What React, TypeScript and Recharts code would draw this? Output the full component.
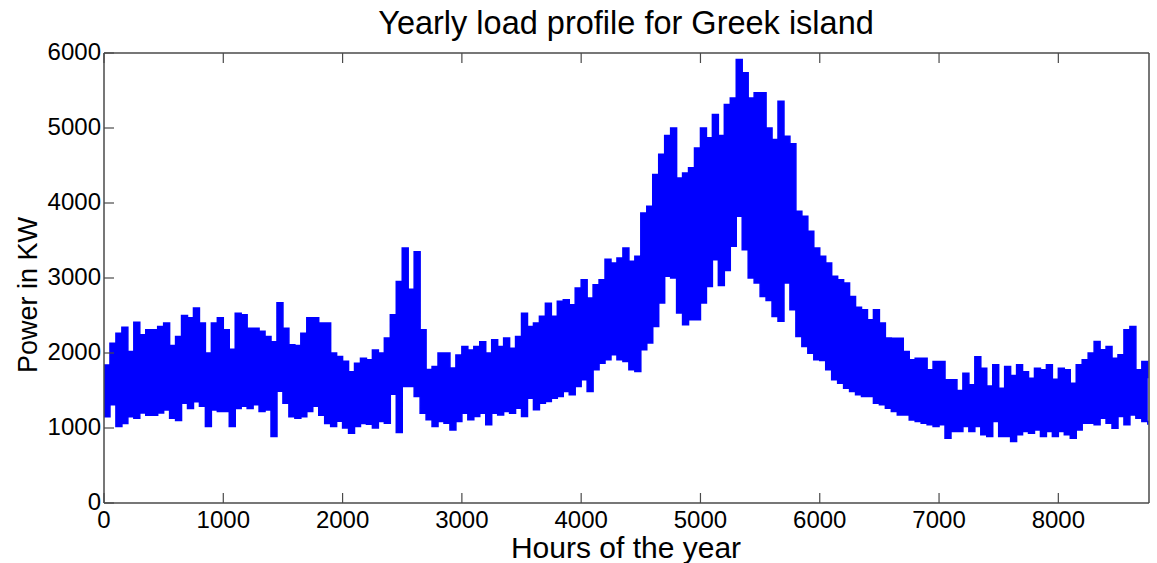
import React from 'react'
import { AreaChart, Area, XAxis, YAxis } from 'recharts'

// hourly load sampled every 50 h, read as the daily swing (low / high) off the plot
const STEP_HOURS = 50

const highLoad = [
  1840, 2130, 2265, 2345, 2020, 2410, 2243, 2310, 2310, 2355,
  2400, 2100, 2220, 2500, 2470, 2600, 2400, 2000, 2400, 2470,
  2310, 2050, 2530, 2510, 2330, 2330, 2290, 2220, 2150, 2670,
  2330, 2110, 2100, 2265, 2470, 2470, 2400, 2400, 2000, 1954,
  1890, 1750, 1865, 1930, 1910, 2040, 2000, 2200, 2510, 2955,
  3400, 2850, 3350, 2310, 1780, 1820, 2000, 2000, 1800, 1975,
  2087, 2040, 2087, 2150, 2000, 2176, 2087, 2200, 2065, 2220,
  2530, 2355, 2400, 2490, 2665, 2490, 2690, 2710, 2645, 2866,
  2977, 2733, 2910, 2977, 3250, 3200, 3266, 3400, 3222, 3290,
  3868, 3957, 4380, 4650, 4900, 5000, 4335, 4400, 4470, 4735,
  5000, 4870, 5180, 4900, 5313, 5400, 5914, 5736, 5400, 5469,
  5469, 5000, 4846, 5357, 4891, 4790, 3890, 3823, 3623, 3400,
  3290, 3200, 3022, 2977, 2933, 2755, 2610, 2577, 2444, 2577,
  2400, 2200, 2198, 2198, 2020, 1910, 1931, 1931, 1776, 1887,
  1887, 1643, 1643, 1500, 1731, 1576, 1950, 1798, 1560, 1842,
  1531, 1820, 1700, 1842, 1750, 1665, 1798, 1776, 1842, 1650,
  1798, 1776, 1598, 1842, 1910, 2000, 2154, 2043, 2087, 1931,
  1976, 2310, 2355, 1776, 1887, 1665
]

const lowLoad = [
  1150, 1310, 1020, 1060, 1150, 1130, 1200, 1170, 1170, 1200,
  1240, 1130, 1100, 1330, 1260, 1350, 1290, 1020, 1240, 1220,
  1220, 1020, 1260, 1290, 1260, 1310, 1220, 1240, 886, 1490,
  1330, 1150, 1130, 1150, 1220, 1290, 1170, 1060, 1020, 1090,
  1000, 930, 1020, 1060, 1050, 1000, 1087, 1064, 1450, 940,
  1553, 1553, 1420, 1198, 1110, 1020, 1087, 1064, 975, 1087,
  1198, 1110, 1153, 1198, 1042, 1198, 1175, 1220, 1198, 1265,
  1153, 1398, 1242, 1331, 1353, 1398, 1420, 1487, 1442, 1553,
  1642, 1487, 1776, 1865, 1910, 1976, 1910, 1887, 1776, 1753,
  2043, 2132, 2355, 2666, 3022, 3000, 2533, 2377, 2444, 2444,
  2666, 2888, 3244, 2900, 3100, 3422, 3823, 3378, 3000, 2933,
  2755, 2700, 2488, 2422, 2933, 2577, 2221, 2087, 1998, 1910,
  1900, 1776, 1642, 1598, 1531, 1487, 1442, 1420, 1420, 1331,
  1310, 1264, 1220, 1175, 1175, 1108, 1086, 1064, 1042, 1020,
  1042, 864, 953, 953, 1020, 953, 1020, 909, 886, 1086,
  886, 886, 820, 909, 953, 930, 975, 886, 953, 886,
  953, 909, 864, 975, 1064, 1064, 1042, 1131, 1064, 997,
  1153, 1042, 1175, 1131, 1086, 1042
]

const xTicks = [0, 1000, 2000, 3000, 4000, 5000, 6000, 7000, 8000]
const yTicks = [0, 1000, 2000, 3000, 4000, 5000, 6000]

const data = highLoad.map((hi, i) => ({ hour: i * STEP_HOURS, band: [lowLoad[i], hi] }))

const FONT = '"Liberation Sans", Arial, Helvetica, sans-serif'
const AXIS = '#4a4a4a'
const TICK_LEN = 10

function BottomTick({ x, y, payload }: any) {
  return (
    <g>
      <line x1={x} y1={y} x2={x} y2={y - TICK_LEN} stroke={AXIS} strokeWidth={1.2} />
      <text x={x} y={y + 25} textAnchor="middle" fontSize={24} fontFamily={FONT} fill="#000">
        {payload.value}
      </text>
    </g>
  )
}

function LeftTick({ x, y, payload }: any) {
  return (
    <g>
      <line x1={x} y1={y} x2={x + TICK_LEN} y2={y} stroke={AXIS} strokeWidth={1.2} />
      <text x={x - 3} y={y + 7} textAnchor="end" fontSize={24} fontFamily={FONT} fill="#000">
        {payload.value}
      </text>
    </g>
  )
}

// top and right axes have a 1px band; ticks are drawn from the plot edge inward
function TopTick({ x, y }: any) {
  return <line x1={x} y1={y} x2={x} y2={y + TICK_LEN} stroke={AXIS} strokeWidth={1.2} />
}

function RightTick({ x, y }: any) {
  return <line x1={x} y1={y} x2={x - TICK_LEN} y2={y} stroke={AXIS} strokeWidth={1.2} />
}

export default function App() {
  return (
    <div style={{ position: 'absolute', left: 0, top: 0, width: 1157, height: 563, background: '#fff' }}>
      <AreaChart width={1157} height={563} data={data} margin={{ top: 52, right: 7, bottom: 0, left: 0 }}>
        <XAxis
          dataKey="hour"
          type="number"
          domain={[0, 8760]}
          ticks={xTicks}
          height={60}
          tickSize={0}
          tickMargin={0}
          tickLine={false}
          axisLine={{ stroke: AXIS, strokeWidth: 1.5 }}
          tick={<BottomTick />}
          interval={0}
        />
        <XAxis
          xAxisId="top"
          orientation="top"
          dataKey="hour"
          type="number"
          domain={[0, 8760]}
          ticks={xTicks}
          height={1}
          tickSize={0}
          tickMargin={0}
          tickLine={false}
          axisLine={{ stroke: AXIS, strokeWidth: 1.5 }}
          tick={<TopTick />}
          interval={0}
        />
        <YAxis
          type="number"
          domain={[0, 6000]}
          ticks={yTicks}
          width={104}
          tickSize={0}
          tickMargin={0}
          tickLine={false}
          axisLine={{ stroke: AXIS, strokeWidth: 1.5 }}
          tick={<LeftTick />}
          interval={0}
        />
        <YAxis
          yAxisId="right"
          orientation="right"
          type="number"
          domain={[0, 6000]}
          ticks={yTicks}
          width={1}
          tickSize={0}
          tickMargin={0}
          tickLine={false}
          axisLine={{ stroke: AXIS, strokeWidth: 1.5 }}
          tick={<RightTick />}
          interval={0}
        />
        <Area
          dataKey="band"
          type="stepAfter"
          stroke="#0000ff"
          strokeWidth={1.5}
          fill="#0000ff"
          fillOpacity={1}
          dot={false}
          activeDot={false}
          isAnimationActive={false}
        />
      </AreaChart>

      {/* title and axis labels */}
      <svg width={1157} height={563} style={{ position: 'absolute', left: 0, top: 0, pointerEvents: 'none' }}>
        <text x={626} y={34} textAnchor="middle" fontSize={32.5} fontFamily={FONT} fill="#000">
          Yearly load profile for Greek island
        </text>
        <text x={626} y={558} textAnchor="middle" fontSize={30} fontFamily={FONT} fill="#000">
          Hours of the year
        </text>
        <text
          x={0}
          y={0}
          transform="translate(37,295) rotate(-90)"
          textAnchor="middle"
          fontSize={27}
          fontFamily={FONT}
          fill="#000"
        >
          Power in KW
        </text>
      </svg>
    </div>
  )
}
